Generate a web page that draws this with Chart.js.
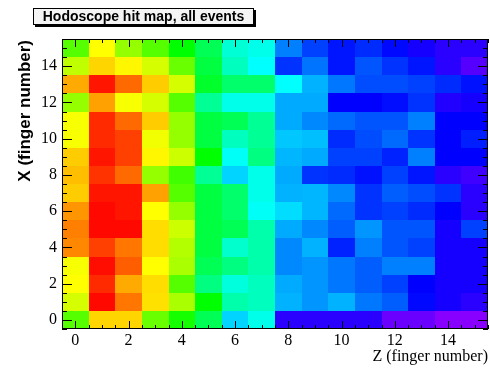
<!DOCTYPE html>
<html>
<head>
<meta charset="utf-8">
<script src="https://cdn.jsdelivr.net/npm/chart.js@4/dist/chart.umd.min.js"></script>
<style>
  html, body { margin: 0; padding: 0; background: #fff; }
  #wrap { width: 490px; height: 370px; }
</style>
</head>
<body>
<div id="wrap"><canvas id="hitMap" width="490" height="370"></canvas></div>
<script>
// finger numbers along Z (columns) and X (rows)
var zBins = [0, 1, 2, 3, 4, 5, 6, 7, 8, 9, 10, 11, 12, 13, 14, 15];
var xBins = [0, 1, 2, 3, 4, 5, 6, 7, 8, 9, 10, 11, 12, 13, 14, 15];
var tickLabels = [0, 2, 4, 6, 8, 10, 12, 14];

// hit counts, one row per X finger (X = 0 first), values along Z
var hits = [
  [900, 1150, 1150, 925, 825, 700, 450, 525, 150, 150, 150, 150, 75, 75, 40, 40],
  [1050, 1390, 1260, 1135, 1000, 800, 600, 575, 410, 375, 410, 340, 310, 210, 175, 150],
  [1100, 1350, 1200, 1140, 900, 650, 540, 575, 400, 375, 340, 310, 275, 200, 175, 175],
  [1090, 1385, 1290, 1100, 1000, 700, 650, 600, 360, 375, 340, 310, 350, 350, 175, 175],
  [1240, 1325, 1260, 1140, 1010, 725, 560, 600, 360, 410, 240, 350, 300, 275, 175, 175],
  [1250, 1390, 1390, 1140, 1040, 725, 700, 600, 400, 360, 310, 375, 300, 300, 175, 275],
  [1225, 1390, 1375, 1100, 975, 725, 675, 510, 460, 415, 325, 260, 275, 250, 200, 150],
  [1160, 1375, 1375, 1210, 900, 725, 675, 525, 410, 415, 360, 260, 310, 290, 260, 150],
  [1175, 1340, 1275, 975, 875, 625, 450, 525, 400, 260, 250, 220, 275, 225, 150, 125],
  [1160, 1375, 1325, 1110, 1040, 800, 510, 650, 415, 400, 275, 275, 240, 350, 200, 200],
  [1090, 1350, 1325, 1085, 975, 725, 575, 625, 435, 425, 250, 290, 325, 260, 200, 235],
  [1090, 1350, 1275, 1160, 975, 725, 700, 625, 400, 360, 325, 300, 300, 350, 200, 200],
  [975, 1210, 1090, 1050, 900, 625, 525, 525, 400, 400, 200, 200, 215, 260, 160, 175],
  [1200, 1375, 1275, 1160, 1050, 750, 675, 675, 500, 410, 340, 290, 290, 275, 250, 220],
  [1025, 1150, 1110, 1050, 925, 725, 575, 500, 260, 335, 225, 300, 260, 225, 150, 100],
  [900, 1100, 975, 900, 800, 700, 550, 525, 350, 275, 225, 250, 210, 175, 150, 150]
];

var maxHits = 1400;

var cells = [];
xBins.forEach(function (x, i) {
  zBins.forEach(function (z, j) {
    cells.push({ x: z, y: x, v: hits[i][j] });
  });
});

// ROOT style violet -> red palette
function hitColor(v) {
  var t = Math.max(0, Math.min(1, v / maxHits));
  var hue = 280 - t * 280;
  return 'hsl(' + hue.toFixed(1) + ',100%,50%)';
}

var heatPlugin = {
  id: 'heat',
  beforeDatasetsDraw: function (chart) {
    var ctx = chart.ctx, xs = chart.scales.x, ys = chart.scales.y;
    ctx.save();
    chart.data.datasets[0].data.forEach(function (c) {
      var x0 = Math.round(xs.getPixelForValue(c.x - 0.5));
      var x1 = Math.round(xs.getPixelForValue(c.x + 0.5));
      var y0 = Math.round(ys.getPixelForValue(c.y + 0.5));
      var y1 = Math.round(ys.getPixelForValue(c.y - 0.5));
      ctx.fillStyle = hitColor(c.v);
      ctx.fillRect(x0, y0, x1 - x0, y1 - y0);
    });
    ctx.restore();
  },
  afterDatasetsDraw: function (chart) {
    var ctx = chart.ctx, a = chart.chartArea, xs = chart.scales.x, ys = chart.scales.y;
    ctx.save();
    ctx.strokeStyle = '#000';
    ctx.lineWidth = 1;
    ctx.beginPath();
    for (var v = -0.5; v <= 15.5; v += 0.5) {
      var major = (v % 2 === 0);
      var px = Math.round(xs.getPixelForValue(v)) + 0.5;
      var lx = major ? 8 : 4;
      ctx.moveTo(px, a.bottom); ctx.lineTo(px, a.bottom - lx);
      ctx.moveTo(px, a.top); ctx.lineTo(px, a.top + lx);
      var py = Math.round(ys.getPixelForValue(v)) + 0.5;
      var ly = major ? 10 : 5;
      ctx.moveTo(a.left, py); ctx.lineTo(a.left + ly, py);
      ctx.moveTo(a.right, py); ctx.lineTo(a.right - ly, py);
    }
    ctx.stroke();
    ctx.strokeRect(Math.round(a.left) + 0.5, Math.round(a.top) + 0.5,
      Math.round(a.right - a.left) - 1, Math.round(a.bottom - a.top) - 1);
    ctx.restore();
  },
  afterDraw: function (chart) {
    var ctx = chart.ctx;
    ctx.save();
    // title box with shadow
    ctx.fillStyle = '#000';
    ctx.fillRect(35, 10, 221, 17);
    ctx.fillStyle = '#f4f4f4';
    ctx.fillRect(33, 8, 221, 17);
    ctx.strokeStyle = '#000';
    ctx.lineWidth = 1;
    ctx.strokeRect(33.5, 8.5, 220, 16);
    ctx.fillStyle = '#000';
    ctx.font = 'bold 14px "Liberation Sans", Arial, sans-serif';
    ctx.textAlign = 'center';
    ctx.textBaseline = 'middle';
    ctx.fillText('Hodoscope hit map, all events', 143.5, 17);
    // x axis title
    ctx.font = '16px "Liberation Serif", "Times New Roman", serif';
    ctx.textAlign = 'right';
    ctx.textBaseline = 'alphabetic';
    ctx.fillText('Z (finger number)', 488, 361);
    // y axis title
    ctx.translate(30, 40);
    ctx.rotate(-Math.PI / 2);
    ctx.font = 'bold 17px "Liberation Sans", Arial, sans-serif';
    ctx.textAlign = 'right';
    ctx.fillText('X (finger number)', 0, 0);
    ctx.restore();
  }
};

function evenTicks(scale) {
  scale.ticks = tickLabels.map(function (v) { return { value: v }; });
}

var ctx = document.getElementById('hitMap').getContext('2d');
var myChart = new Chart(ctx, {
  type: 'scatter',
  data: {
    datasets: [{
      label: 'hits',
      data: cells,
      pointRadius: 0,
      pointHoverRadius: 0
    }]
  },
  options: {
    responsive: false,
    animation: false,
    events: [],
    layout: { padding: { left: 0, right: 2, top: 39, bottom: 0 } },
    plugins: {
      legend: { display: false },
      tooltip: { enabled: false }
    },
    scales: {
      x: {
        type: 'linear',
        min: -0.5,
        max: 15.5,
        grid: { display: false, drawTicks: false },
        border: { display: false },
        afterBuildTicks: evenTicks,
        afterFit: function (s) { s.height = 41; },
        ticks: {
          color: '#000',
          padding: 2,
          maxRotation: 0,
          font: { family: '"Liberation Serif", "Times New Roman", serif', size: 16 }
        }
      },
      y: {
        type: 'linear',
        min: -0.5,
        max: 15.5,
        grid: { display: false, drawTicks: false },
        border: { display: false },
        afterBuildTicks: evenTicks,
        afterFit: function (s) { s.width = 62; },
        ticks: {
          color: '#000',
          padding: 5,
          font: { family: '"Liberation Serif", "Times New Roman", serif', size: 16 }
        }
      }
    }
  },
  plugins: [heatPlugin]
});
</script>
</body>
</html>
